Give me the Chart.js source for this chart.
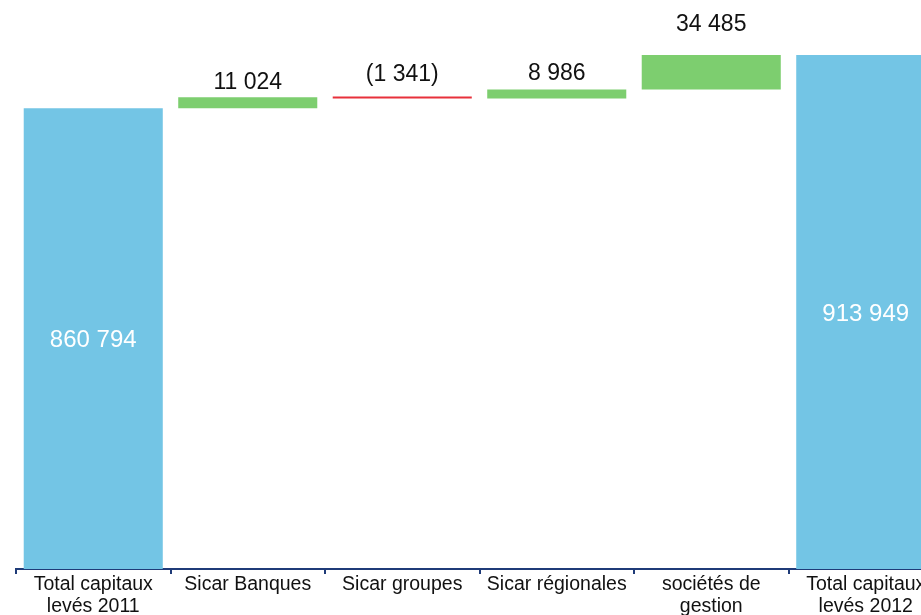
<!DOCTYPE html>
<html>
<head>
<meta charset="utf-8">
<script src="https://cdn.jsdelivr.net/npm/chart.js@4.4.1/dist/chart.umd.min.js"></script>
<style>
    html, body { margin: 0; padding: 0; background: #fff; overflow: hidden; }
    #wrap { width: 960px; height: 615px; }
</style>
</head>
<body>
<div id="wrap"><canvas id="waterfall" width="960" height="615"></canvas></div>
<script>
// Chart data
const categories = [
    ['Total capitaux', 'levés 2011'],
    'Sicar Banques',
    'Sicar groupes',
    'Sicar régionales',
    ['sociétés de', 'gestion'],
    ['Total capitaux', 'levés 2012']
];
const stepValues = [860794, 11024, -1341, 8986, 34485, 913949];
const isTotal = [true, false, false, false, false, true];

const axisMin = 400000;
const axisMax = 969000;

const BLUE = '#73c5e5';
const GREEN = '#7dce6f';
const RED = '#e8313b';
const NAVY = '#1f3b78';

// Build floating bars from the step values
let running = 0;
const floating = [];
const barColors = [];
stepValues.forEach((v, i) => {
    if (isTotal[i]) {
        floating.push([0, v]);
        running = v;
        barColors.push(BLUE);
    } else {
        floating.push([running, running + v]);
        running += v;
        barColors.push(v >= 0 ? GREEN : RED);
    }
});

function formatNum(v) {
    const s = Math.abs(v).toString().replace(/\B(?=(\d{3})+(?!\d))/g, ' ');
    return v < 0 ? '(' + s + ')' : s;
}

// how far above the bar each delta label sits
const labelLift = [0, 15, 22, 16, 30, 0];

const valueLabels = {
    id: 'valueLabels',
    afterDatasetsDraw(chart) {
        const ctx = chart.ctx;
        const meta = chart.getDatasetMeta(0);
        const area = chart.chartArea;
        ctx.save();
        ctx.textAlign = 'center';
        ctx.textBaseline = 'middle';
        meta.data.forEach((bar, i) => {
            const v = stepValues[i];
            const top = Math.min(bar.y, bar.base);
            if (isTotal[i]) {
                const bottom = Math.min(Math.max(bar.y, bar.base), area.bottom);
                ctx.font = '24px "Liberation Sans", Arial, sans-serif';
                ctx.fillStyle = '#ffffff';
                ctx.fillText(formatNum(v), bar.x, (top + bottom) / 2 + 2);
            } else {
                ctx.font = '23px "Liberation Sans", Arial, sans-serif';
                ctx.fillStyle = '#111111';
                ctx.fillText(formatNum(v), bar.x, top - labelLift[i]);
            }
        });
        ctx.restore();
    }
};

new Chart(document.getElementById('waterfall'), {
    type: 'bar',
    data: {
        labels: categories,
        datasets: [{
            data: floating,
            backgroundColor: barColors,
            borderWidth: 0,
            minBarLength: 2,
            barPercentage: 0.9,
            categoryPercentage: 1
        }]
    },
    options: {
        responsive: false,
        animation: false,
        layout: { padding: { left: 16, right: 17, top: 0, bottom: 0 } },
        plugins: {
            legend: { display: false },
            tooltip: { enabled: false }
        },
        scales: {
            y: {
                display: false,
                min: axisMin,
                max: axisMax
            },
            x: {
                afterFit(scale) { scale.height = 46; },
                border: { display: true, color: NAVY, width: 2 },
                grid: {
                    display: true,
                    offset: true,
                    drawOnChartArea: false,
                    drawTicks: true,
                    tickLength: 5,
                    color: NAVY,
                    lineWidth: 2
                },
                ticks: {
                    padding: 0,
                    maxRotation: 0,
                    autoSkip: false,
                    color: '#111111',
                    font: { family: '"Liberation Sans", Arial, sans-serif', size: 19.5, lineHeight: 1.13 }
                }
            }
        }
    },
    plugins: [valueLabels]
});
</script>
</body>
</html>
